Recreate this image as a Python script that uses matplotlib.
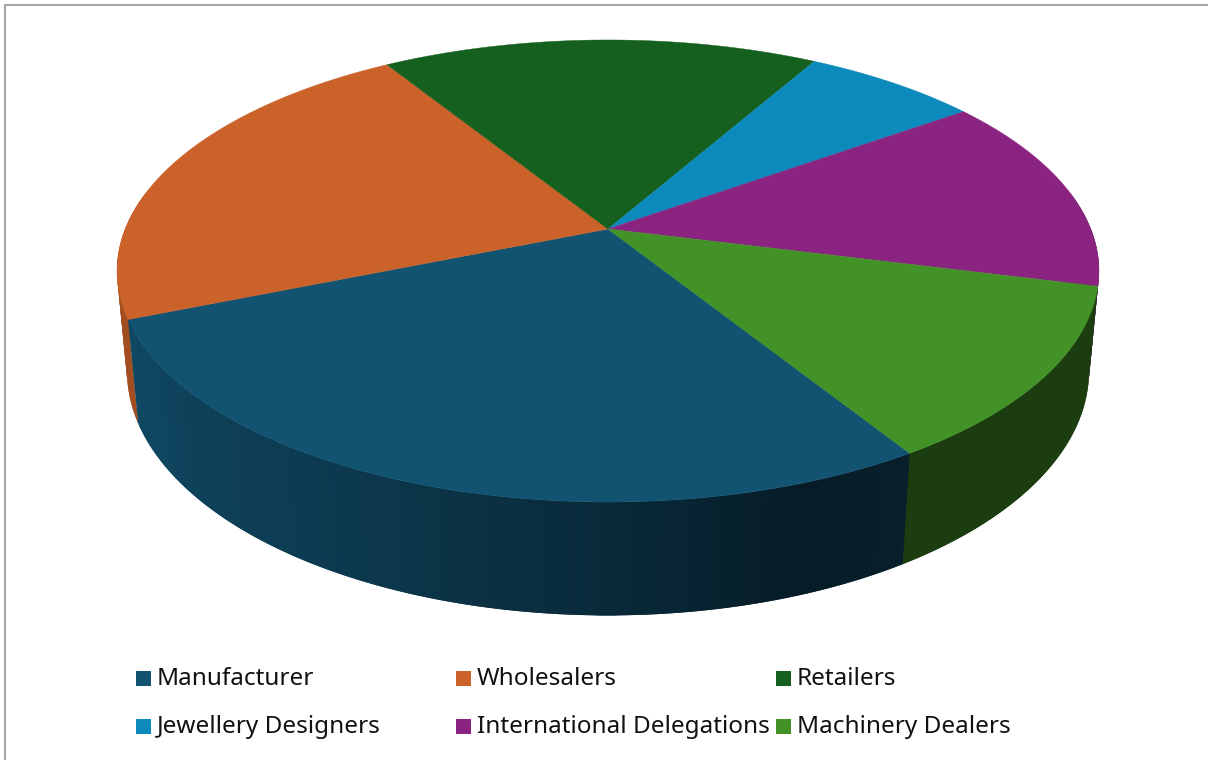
#!/usr/bin/env python3
import numpy as np
import matplotlib
matplotlib.use('Agg')
import matplotlib.pyplot as plt
from matplotlib.patches import Rectangle

categories = ['Manufacturer', 'Wholesalers', 'Retailers',
              'Jewellery Designers', 'International Delegations', 'Machinery Dealers']
values = [27.7, 22.3, 17.1, 6.9, 13.8, 12.2]
colors = ['#125372', '#CB6229', '#16601F', '#0D8ABC', '#8B2480', '#429227']

# first slice starts at this angle, clockwise from the back of the pie
FIRST_ANGLE = 148.1
STEP = 1.0

# projection of the unit disc to image pixels
CX, CY = 608.0, 229.0
P, K, M = 0.1818, 223.4, 482.8
DEPTH_R, DEPTH_H = 0.02, 100.5


def project(angle, lower=False):
    t = np.radians(angle)
    x, y = np.sin(t), np.cos(t)
    r = DEPTH_R if lower else 0.0
    h = DEPTH_H if lower else 0.0
    w = 1 + P * y + r
    return CX + M * x / w, CY + (-K * y + h) / w


def wall_shade(angle, start):
    # front wall of the big slice gets darker going to the right
    if start == FIRST_ANGLE:
        return np.interp(angle, [148, 160, 181, 213, 248], [0.38, 0.34, 0.52, 0.72, 0.88])
    if angle > 180:
        return 0.8
    return 0.42


def shade(color, factor):
    rgb = np.array(matplotlib.colors.to_rgb(color))
    return tuple(rgb * factor)


fig = plt.figure(figsize=(12.08, 7.6), dpi=100)
ax = fig.add_axes([0, 0, 1, 1])
ax.set_xlim(0, 1208)
ax.set_ylim(760, 0)
ax.axis('off')

edges = FIRST_ANGLE + np.cumsum([0] + values) / sum(values) * 360

# walls, back to front
quads = []
for start, end, color in zip(edges[:-1], edges[1:], colors):
    a = start
    while a < end:
        b = min(a + STEP, end)
        mid = (a + b) / 2
        if 80 < mid % 360 < 280:
            quads.append((np.cos(np.radians(mid)), a, b, color, start))
        a = b
quads.sort(key=lambda q: -q[0])
for _, a, b, color, start in quads:
    # stretch each quad under the one drawn after it so no seams show
    if np.cos(np.radians(a)) > np.cos(np.radians(b)):
        b2 = b + STEP
        a2 = a
    else:
        a2 = a - STEP
        b2 = b
    a2 = max(a2, start) if color != colors[0] else a2
    xt1, yt1 = project(a2)
    xt2, yt2 = project(b2)
    xb1, yb1 = project(a2, True)
    xb2, yb2 = project(b2, True)
    c = shade(color, wall_shade(a % 360, start))
    ax.fill([xt1, xt2, xb2, xb1], [yt1, yt2, yb2, yb1], color=c, lw=0)

# top of the pie
for start, end, color in zip(edges[:-1], edges[1:], colors):
    angles = np.linspace(start, end, 120)
    xs, ys = project(angles)
    ax.fill(np.r_[CX, xs], np.r_[CY, ys], color=color, lw=0.3)

# chart border, only top and left are visible
ax.plot([4.5, 4.5, 1208], [760, 4.5, 4.5], color='#A6A6A6', lw=1.5, solid_joinstyle='miter')

# legend
leg_x = [136, 456, 776]
leg_y = [678.5, 726.5]
for i, (name, color) in enumerate(zip(categories, colors)):
    x = leg_x[i % 3]
    y = leg_y[i // 3]
    ax.add_patch(Rectangle((x, y - 7.5), 15, 15, facecolor=color, edgecolor='none'))
    ax.text(x + 21, y + 0.5, name, fontsize=17.5, family='Noto Sans', color='#111111',
            va='center', ha='left')

fig.savefig('out.png', dpi=100)
